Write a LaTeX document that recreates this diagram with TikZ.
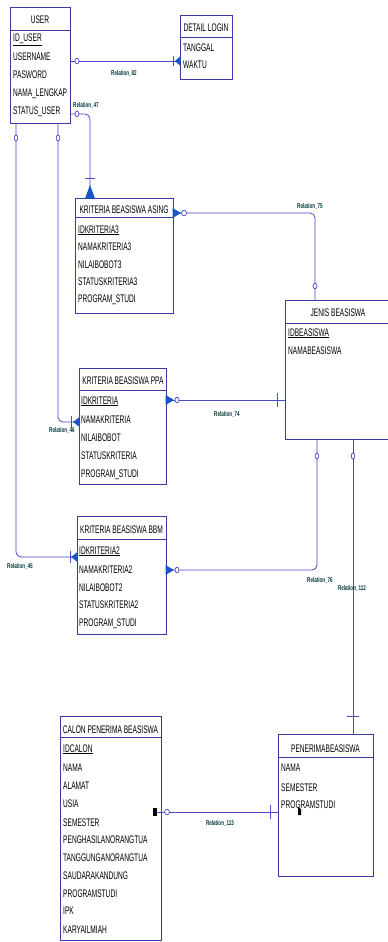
\documentclass[tikz,border=0pt]{standalone}
\usepackage{fontspec}
\setmainfont{Liberation Sans}[FakeStretch=0.6]
\newfontfamily\relfont{Liberation Sans}[FakeStretch=0.65]
\definecolor{boxcol}{RGB}{58,58,165}
\definecolor{linecol}{RGB}{72,72,200}
\definecolor{arrcol}{RGB}{25,85,200}
\definecolor{relcol}{RGB}{0,55,55}
\begin{document}
\begin{tikzpicture}[x=1pt,y=-1pt,
  entity/.style={draw=boxcol,line width=0.9pt,fill=white,inner sep=0pt,anchor=north west},
  conn/.style={draw=linecol,line width=0.8pt},
  roundconn/.style={conn,rounded corners=5pt},
  hdr/.style={font=\fontsize{11}{13}\selectfont,inner sep=0pt,anchor=base},
  attr/.style={font=\fontsize{11}{13}\selectfont,inner sep=0pt,anchor=base west},
  rel/.style={font=\relfont\bfseries\fontsize{7}{8}\selectfont,text=relcol,inner sep=0pt},
  opt/.style={draw=linecol,fill=white,line width=0.7pt},
  crow/.style={fill=arrcol},
  barl/.style={draw=linecol,line width=0.8pt}]
\fill[white] (0,0) rectangle (388,942);
\useasboundingbox (0,0) rectangle (388,942);

% ---------- entities ----------
\node[entity,minimum width=60pt,minimum height=116pt] (user) at (10,7) {};
\draw[boxcol,line width=0.9pt] (10,30) -- (70,30);
\node[hdr] (userh) at (40,24) {USER};
\node[attr] (u1) at (13,42) {\underline{ID\_USER}};
\node[attr] (u2) at (13,60) {USERNAME};
\node[attr] (u3) at (13,78) {PASWORD};
\node[attr] (u4) at (13,96) {NAMA\_LENGKAP};
\node[attr] (u5) at (13,114) {STATUS\_USER};

\node[entity,minimum width=52pt,minimum height=64pt] (login) at (180,15) {};
\draw[boxcol,line width=0.9pt] (180,37) -- (232,37);
\node[hdr] (loginh) at (206,32) {DETAIL LOGIN};
\node[attr] (l1) at (183,52) {TANGGAL};
\node[attr] (l2) at (183,69) {WAKTU};

\node[entity,minimum width=98pt,minimum height=115pt] (asing) at (75,198) {};
\draw[boxcol,line width=0.9pt] (75,217) -- (173,217);
\node[hdr] (asingh) at (124,213) {KRITERIA BEASISWA ASING};
\node[attr] (a1) at (78,233) {\underline{IDKRITERIA3}};
\node[attr] (a2) at (78,250) {NAMAKRITERIA3};
\node[attr] (a3) at (78,268) {NILAIBOBOT3};
\node[attr] (a4) at (78,285) {STATUSKRITERIA3};
\node[attr] (a5) at (78,302) {PROGRAM\_STUDI};

\node[entity,minimum width=110pt,minimum height=139pt] (jenis) at (285,300) {};
\draw[boxcol,line width=0.9pt] (285,323) -- (395,323);
\node[hdr] (jenish) at (338,316) {JENIS BEASISWA};
\node[attr] (j1) at (288,336) {\underline{IDBEASISWA}};
\node[attr] (j2) at (288,354) {NAMABEASISWA};

\node[entity,minimum width=87pt,minimum height=116pt] (ppa) at (79,368) {};
\draw[boxcol,line width=0.9pt] (79,390) -- (166,390);
\node[hdr] (ppah) at (123,384) {KRITERIA BEASISWA PPA};
\node[attr] (p1) at (81,404) {\underline{IDKRITERIA}};
\node[attr] (p2) at (81,423) {NAMAKRITERIA};
\node[attr] (p3) at (81,441) {NILAIBOBOT};
\node[attr] (p4) at (81,459) {STATUSKRITERIA};
\node[attr] (p5) at (81,477) {PROGRAM\_STUDI};

\node[entity,minimum width=89pt,minimum height=118pt] (bbm) at (77,516) {};
\draw[boxcol,line width=0.9pt] (77,539) -- (166,539);
\node[hdr] (bbmh) at (121.5,533) {KRITERIA BEASISWA BBM};
\node[attr] (b1) at (79,554) {\underline{IDKRITERIA2}};
\node[attr] (b2) at (79,573) {NAMAKRITERIA2};
\node[attr] (b3) at (79,591) {NILAIBOBOT2};
\node[attr] (b4) at (79,608) {STATUSKRITERIA2};
\node[attr] (b5) at (79,626) {PROGRAM\_STUDI};

\node[entity,minimum width=101pt,minimum height=224pt] (calon) at (60,716) {};
\draw[boxcol,line width=0.9pt] (60,737) -- (161,737);
\node[hdr] (calonh) at (110.5,733) {CALON PENERIMA BEASISWA};
\node[attr] (c1) at (63,752) {\underline{IDCALON}};
\node[attr] (c2) at (63,771) {NAMA};
\node[attr] (c3) at (63,789) {ALAMAT};
\node[attr] (c4) at (63,807) {USIA};
\node[attr] (c5) at (63,826) {SEMESTER};
\node[attr] (c6) at (63,843) {PENGHASILANORANGTUA};
\node[attr] (c7) at (63,861) {TANGGUNGANORANGTUA};
\node[attr] (c8) at (63,879) {SAUDARAKANDUNG};
\node[attr] (c9) at (63,897) {PROGRAMSTUDI};
\node[attr] (c10) at (63,914) {IPK};
\node[attr] (c11) at (63,933) {KARYAILMIAH};

\node[entity,minimum width=95pt,minimum height=142pt] (pen) at (278,734) {};
\draw[boxcol,line width=0.9pt] (278,757) -- (373,757);
\node[hdr] (penh) at (325.5,752) {PENERIMABEASISWA};
\node[attr] (n1) at (281,771) {NAMA};
\node[attr] (n2) at (281,791) {SEMESTER};
\node[attr] (n3) at (281,808) {PROGRAMSTUDI};

% ---------- connector end points ----------
\coordinate (e82a) at (70,61);   \coordinate (e82b) at (180,61);
\coordinate (e47a) at (70,114);  \coordinate (k47) at (90,114);  \coordinate (e47b) at (90,198);
\coordinate (e75a) at (173,213); \coordinate (k75) at (315,213); \coordinate (e75b) at (315,300);
\coordinate (e74a) at (166,400); \coordinate (e74b) at (285,400);
\coordinate (e46a) at (58,123);  \coordinate (k46) at (58,422);  \coordinate (e46b) at (79,422);
\coordinate (e45a) at (16,123);  \coordinate (k45) at (16,557);  \coordinate (e45b) at (77,557);
\coordinate (e76a) at (166,570); \coordinate (k76) at (317,570); \coordinate (e76b) at (317,439);
\coordinate (e112a) at (353,439); \coordinate (e112b) at (353,734);
\coordinate (e113a) at (157,812); \coordinate (e113b) at (278,812);

% ---------- connectors ----------
\draw[conn] (e82a) -- (e82b);
\draw[roundconn] (e47a) -- (k47) -- (e47b);
\draw[roundconn] (e75a) -- (k75) -- (e75b);
\draw[conn] (e74a) -- (e74b);
\draw[roundconn] (e46a) -- (k46) -- (e46b);
\draw[roundconn] (e45a) -- (k45) -- (e45b);
\draw[roundconn] (e76a) -- (k76) -- (e76b);
\draw[conn] (e112a) -- (e112b);
\draw[conn] (e113a) -- (e113b);

% ---------- end symbols ----------
% Relation_82
\draw[opt] (77,61) ellipse (2pt and 2.8pt);
\draw[barl] (173,56) -- (173,66);
\fill[crow] (175,61) -- (180.5,56) -- (180.5,66) -- cycle;
% Relation_47
\draw[opt] (77,114) ellipse (2pt and 2.8pt);
\draw[barl] (85,178) -- (95,178);
\fill[crow] (90,185) -- (85,198.5) -- (95,198.5) -- cycle;
% Relation_75
\fill[crow] (172.5,208) -- (172.5,218) -- (181,213) -- cycle;
\draw[opt] (184,213) ellipse (2.6pt and 2.8pt);
\draw[opt] (315,286) ellipse (2pt and 2.8pt);
% Relation_74
\fill[crow] (165.5,395) -- (165.5,405) -- (174,400) -- cycle;
\draw[opt] (177,400) ellipse (2pt and 2.8pt);
\draw[barl] (277,393) -- (277,407);
% Relation_46
\draw[opt] (58,138) ellipse (1.8pt and 3pt);
\draw[barl] (71,416) -- (71,428);
\fill[crow] (73,422) -- (79.5,417) -- (79.5,427) -- cycle;
% Relation_45
\draw[opt] (16,138) ellipse (1.8pt and 3pt);
\draw[barl] (70,551) -- (70,563);
\fill[crow] (71,557) -- (77.5,552) -- (77.5,562) -- cycle;
% Relation_76
\fill[crow] (165.5,565) -- (165.5,575) -- (174,570) -- cycle;
\draw[opt] (177,570) ellipse (2pt and 2.8pt);
\draw[opt] (317,456) ellipse (1.8pt and 3pt);
% Relation_112
\draw[opt] (353,456) ellipse (1.8pt and 3pt);
\draw[barl] (347,716) -- (359,716);
% Relation_113
\fill[black] (153,808) rectangle (157,816);
\draw[opt] (167,812) ellipse (2.4pt and 2.8pt);
\draw[barl] (270,805) -- (270,819);
\fill[black] (298,807) -- (298,815) -- (301,815) -- (301,809) -- cycle;

% ---------- relation labels ----------
\node[rel] (r82) at (124,73) {Relation\_82};
\node[rel] (r47) at (86,105) {Relation\_47};
\node[rel] (r75) at (310,206) {Relation\_75};
\node[rel] (r74) at (227,414) {Relation\_74};
\node[rel] (r46) at (62,430) {Relation\_46};
\node[rel] (r45) at (20,566) {Relation\_45};
\node[rel] (r76) at (320,580) {Relation\_76};
\node[rel] (r112) at (352,588) {Relation\_112};
\node[rel] (r113) at (220,823) {Relation\_113};
\end{tikzpicture}
\end{document}
